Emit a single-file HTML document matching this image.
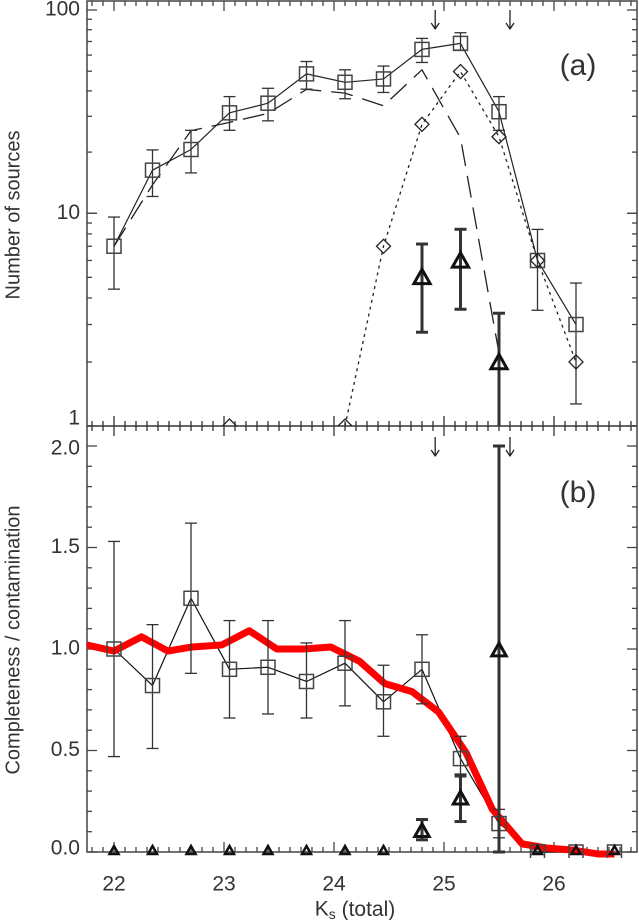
<!DOCTYPE html>
<html><head><meta charset="utf-8"><style>
html,body{margin:0;padding:0;background:#fff}
svg{display:block}
text{font-family:"Liberation Sans",sans-serif;fill:#333}
</style></head><body>
<svg id="chart" width="639" height="920" viewBox="0 0 639 920" xmlns="http://www.w3.org/2000/svg"></svg>
<script>
// ---- data ----
const magBins = [22.0,22.35,22.7,23.05,23.4,23.75,24.1,24.45,24.8,25.15,25.5,25.85,26.2];
const countTotal = [7.0,16.3,20.6,31.2,34.8,48.5,44.1,45.8,64,68.5,31.6,6.0,3.0];
const countTotalHi = [9.6,20.5,25.6,37.5,41.2,55.8,50.8,53,72.5,77.3,37.5,8.4,4.7];
const countTotalLo = [4.4,12.1,15.8,25.6,28.5,40.8,36.6,39.3,55.2,63.5,25.6,3.5,1.27];
const dashedMags = [22.0,22.35,22.7,23.05,23.4,23.75,24.1,24.45,24.8,25.15,25.5];
const dashedCounts = [7,13.8,25.5,28,31,40.7,39,33.8,50.8,23.5,2.2];
const diamondMags = [23.05,24.1,24.45,24.8,25.15,25.5,25.85,26.2];
const diamondCounts = [1,1,7.0,27.4,49.8,23.8,6.0,2.0];
const triMagsA = [24.8,25.15,25.5];
const triCountsA = [4.95,5.92,1.97];
const triHiA = [7.17,8.41,3.39];
const triLoA = [2.76,3.54,0.5];
const arrowMags = [24.92,25.6];

const compMags = [22.0,22.35,22.7,23.05,23.4,23.75,24.1,24.45,24.8,25.15,25.5,25.85,26.2,26.55];
const compVals = [1.0,0.82,1.25,0.90,0.91,0.84,0.93,0.74,0.90,0.46,0.14,0,0,0];
const compHi = [1.53,1.12,1.62,1.14,1.14,1.03,1.14,0.92,1.07,0.57,0.21,null,null,null];
const compLo = [0.47,0.51,0.88,0.66,0.68,0.66,0.72,0.57,0.73,0.37,0.07,null,null,null];
const redMags = [21.75,22.0,22.25,22.49,22.71,22.98,23.23,23.48,23.73,23.97,24.23,24.46,24.71,24.95,25.2,25.44,25.71,25.93,26.16,26.41,26.55];
const redVals = [1.02,0.99,1.06,0.99,1.01,1.02,1.09,1.0,1.0,1.01,0.94,0.83,0.79,0.69,0.49,0.21,0.04,0.02,0.01,-0.01,-0.01];
const triMagsB = [24.8,25.15,25.5];
const triValsB = [0.10,0.26,0.99];
const triHiB = [0.16,0.38,2.0];
const triLoB = [0.06,0.15,0.0];
const zeroTriMags = [22.0,22.35,22.7,23.05,23.4,23.75,24.1,24.45,25.85,26.2,26.55];
const xTickLabels = ["22","23","24","25","26"];
const yTickLabelsA = ["1","10","100"];
const yTickLabelsB = ["0.0","0.5","1.0","1.5","2.0"];

// ---- geometry ----
const L=87,R=637,TA=1,MID=426,BB=852;
const svg=document.getElementById('chart');
const NS='http://www.w3.org/2000/svg';
function X(m){return 114+(m-22)*110;}
function YA(v){const l=Math.log10(v);return l<=1?426-212.7*l:213.3-203.3*(l-1);}
function YB(v){return 852-v*203;}
function mk(tag,attrs,parent){const e=document.createElementNS(NS,tag);for(const k in attrs)e.setAttribute(k,attrs[k]);(parent||svg).appendChild(e);return e;}
function grp(name){const g=mk('g',{});return g;}
function line(g,x1,y1,x2,y2,st,w,dash){return mk('line',{x1,y1,x2,y2,stroke:st,'stroke-width':w,'stroke-dasharray':dash||'none'},g);}
function poly(g,pts,st,w,dash){return mk('polyline',{points:pts.map(p=>p.join(',')).join(' '),fill:'none',stroke:st,'stroke-width':w,'stroke-dasharray':dash||'none','stroke-linejoin':'round'},g);}
function txt(g,x,y,s,size,anchor,extra){const t=mk('text',Object.assign({x,y,'font-size':size,'text-anchor':anchor||'middle','dominant-baseline':'middle'},extra||{}),g);t.textContent=s;return t;}

// clip for panel a
const defs=mk('defs',{});
const cp=mk('clipPath',{id:'clipA'},defs);mk('rect',{x:L,y:TA,width:R-L,height:MID-TA},cp);
const cpb=mk('clipPath',{id:'clipB'},defs);mk('rect',{x:L,y:MID,width:R-L,height:BB-MID+6},cpb);

// ---- axes ----
const axes=grp('axes');
mk('rect',{x:L,y:TA,width:R-L,height:BB-TA,fill:'none',stroke:'#444','stroke-width':1.5},axes);
line(axes,L,MID,R,MID,'#333',1.5);
for(let i=0;i<=50;i++){const m=21.8+i*0.1;if(m>26.75)break;const x=X(m);const maj=Math.abs(m-Math.round(m))<0.01;const len=maj?10:5;
  line(axes,x,TA,x,TA+len,'#444',1.3);
  line(axes,x,MID-len,x,MID+len,'#333',1.3);
  line(axes,x,BB,x,BB-len,'#444',1.3);}
// log ticks panel a
for(let d=0;d<2;d++)for(let k=1;k<=10;k++){const v=k*Math.pow(10,d);if(v>110)break;const y=YA(v);const len=(k==1||k==10)?10:5;
  line(axes,L,y,L+len,y,'#444',1.3);line(axes,R,y,R-len,y,'#444',1.3);}
// linear ticks panel b
for(let i=0;i<=21;i++){const v=i*0.1;const y=YB(v);const len=(i%5==0)?10:5;
  line(axes,L,y,L+len,y,'#444',1.3);line(axes,R,y,R-len,y,'#444',1.3);}
// tick labels
const tl=grp('tick-labels');
xTickLabels.forEach(s=>{const t=txt(tl,X(+s),885,s,21);});
const yAv=[1,10,100];
yTickLabelsA.forEach((s,i)=>{const y=YA(yAv[i])+(i==0?-7:0);const t=txt(tl,80,y,s,21,'end');});
yTickLabelsB.forEach((s,i)=>{const y=YB(+s)+(i==4?3:(i==0?-3:0));const t=txt(tl,80,y,s,21,'end');});
// titles
const xt=mk('text',{x:355,y:910,'font-size':21,'text-anchor':'middle','dominant-baseline':'middle'});

xt.innerHTML='K<tspan font-size="14" dy="5">s</tspan><tspan dy="-5"> (total)</tspan>';
const ya=txt(svg,0,0,'Number of sources',20,'middle',{transform:'translate(14,215) rotate(-90)'});

const yb=txt(svg,0,0,'Completeness / contamination',20,'middle',{transform:'translate(14,640) rotate(-90)'});

const la=txt(svg,578,67,'(a)',30);
const lb=txt(svg,578,494,'(b)',30);

// ---- markers ----
function square(g,x,y){mk('rect',{x:x-7,y:y-7,width:14,height:14,fill:'none',stroke:'#444','stroke-width':1.5},g);}
function diamond(g,x,y){mk('polygon',{points:`${x},${y-7} ${x+7},${y} ${x},${y+7} ${x-7},${y}`,fill:'none',stroke:'#222','stroke-width':1.3},g);}
function tri(g,x,y,s,w){mk('polygon',{points:`${x},${y-s} ${x+s*0.9},${y+s*0.6} ${x-s*0.9},${y+s*0.6}`,fill:'none',stroke:'#111','stroke-width':w},g);}
function ebar(g,x,y1,y2,w,cap){line(g,x,y1,x,y2,'#333',w);line(g,x-cap,y1,x+cap,y1,'#333',w);line(g,x-cap,y2,x+cap,y2,'#333',w);}

// ---- panel a ----
const pa=grp('panel-a');pa.setAttribute('clip-path','url(#clipA)');
const dl=poly(pa,dashedMags.map((m,i)=>[X(m),YA(dashedCounts[i])]),'#222',1.3,'22,10');

const dot=poly(pa,diamondMags.slice(1).map((m,i)=>[X(m),YA(diamondCounts[i+1])]),'#222',1.3,'3,4');

const sl=poly(pa,magBins.map((m,i)=>[X(m),YA(countTotal[i])]),'#222',1.2);

magBins.forEach((m,i)=>{const g=grp('total-point');pa.appendChild(g);ebar(g,X(m),YA(countTotalHi[i]),YA(countTotalLo[i]),1.3,6);square(g,X(m),YA(countTotal[i]));});
diamondMags.forEach((m,i)=>{const g=grp('diamond-point');pa.appendChild(g);diamond(g,X(m),YA(diamondCounts[i]));});
triMagsA.forEach((m,i)=>{const g=grp('triangle-point-a');pa.appendChild(g);ebar(g,X(m),YA(triHiA[i]),YA(triLoA[i]),3,6);tri(g,X(m),YA(triCountsA[i]),9,3);});
arrowMags.forEach(m=>{const g=grp('arrow-a');const x=X(m);line(g,x,10,x,28,'#222',1.3);poly(g,[[x-4,23],[x,29],[x+4,23]],'#222',1.3);});

// ---- panel b ----
const pb=grp('panel-b');pb.setAttribute('clip-path','url(#clipB)');
const cl=poly(pb,compMags.map((m,i)=>[X(m),YB(compVals[i])]),'#111',1.2);

const rl=poly(pb,redMags.map((m,i)=>[X(m),YB(redVals[i])]),'#f00',7);

compMags.forEach((m,i)=>{const g=grp('completeness-point');pb.appendChild(g);if(compHi[i]!==null)ebar(g,X(m),YB(compHi[i]),YB(compLo[i]),1.3,6);square(g,X(m),YB(compVals[i]));});
zeroTriMags.forEach(m=>{const g=grp('zero-triangle');pb.appendChild(g);tri(g,X(m),YB(0)-1,5,2.5);});
triMagsB.forEach((m,i)=>{const g=grp('triangle-point-b');pb.appendChild(g);ebar(g,X(m),YB(triHiB[i]),YB(triLoB[i]),3,6);tri(g,X(m),YB(triValsB[i]),8,3);});
arrowMags.forEach(m=>{const g=grp('arrow-b');const x=X(m);line(g,x,437,x,455,'#222',1.3);poly(g,[[x-4,450],[x,456],[x+4,450]],'#222',1.3);});
</script>
</body></html>
